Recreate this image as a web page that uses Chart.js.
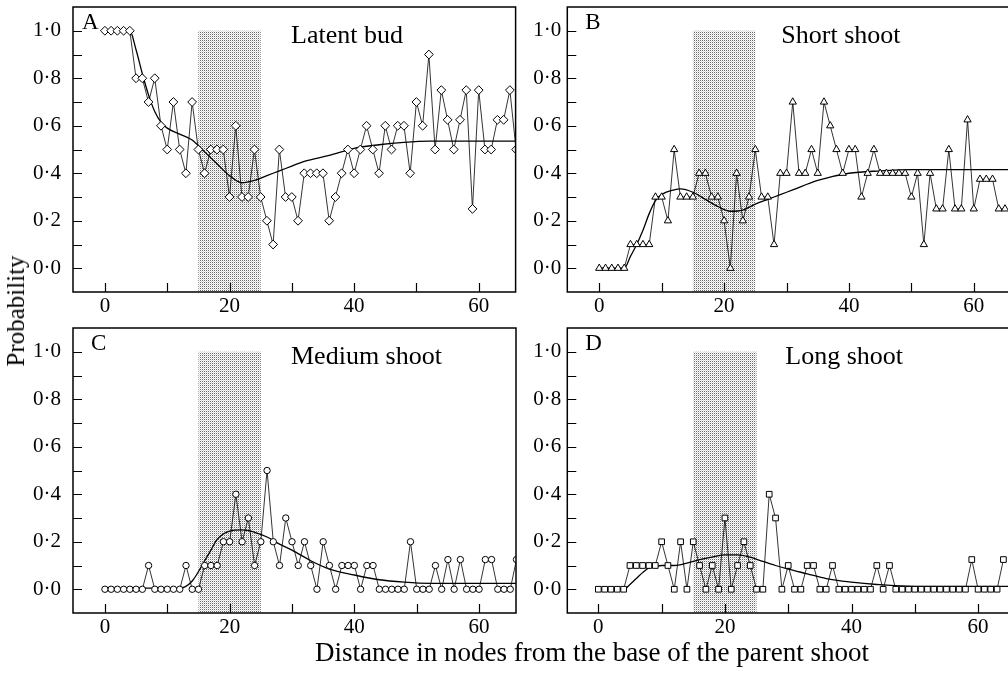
<!DOCTYPE html>
<html>
<head>
<meta charset="utf-8">
<script src="https://cdn.jsdelivr.net/npm/chart.js@4.4.1/dist/chart.umd.min.js"></script>
<style>
  html, body { margin: 0; padding: 0; background: #fff; }
  body { width: 1008px; height: 676px; overflow: hidden; position: relative; font-family: 'Liberation Serif', serif; }
  .panel { position: absolute; }
  .lab { position: absolute; font: 25px 'Liberation Serif', serif; color: #000; white-space: nowrap; }
</style>
</head>
<body>
<div class="panel" style="left:0;top:0"><canvas id="chart-a" width="521" height="320"></canvas></div>
<div class="panel" style="left:500px;top:0"><canvas id="chart-b" width="515" height="320"></canvas></div>
<div class="panel" style="left:0;top:321px"><canvas id="chart-c" width="521" height="320"></canvas></div>
<div class="panel" style="left:500px;top:321px"><canvas id="chart-d" width="520" height="320"></canvas></div>
<div class="lab" style="left:16px;top:311px;transform:translate(-50%,-50%) rotate(-90deg)">Probability</div>
<div class="lab" style="left:592px;top:652px;font-size:27px;transform:translate(-50%,-50%)">Distance in nodes from the base of the parent shoot</div>
<script>
// observed probabilities, one value per node starting at node 0
const latentBud = [1, 1, 1, 1, 1, 0.8, 0.8, 0.7, 0.8, 0.6, 0.5, 0.7, 0.5, 0.4, 0.7, 0.5, 0.4, 0.5, 0.5, 0.5,
  0.3, 0.6, 0.3, 0.3, 0.5, 0.3, 0.2, 0.1, 0.5, 0.3, 0.3, 0.2, 0.4, 0.4, 0.4, 0.4, 0.2, 0.3, 0.4, 0.5,
  0.4, 0.5, 0.6, 0.5, 0.4, 0.6, 0.5, 0.6, 0.6, 0.4, 0.7, 0.6, 0.9, 0.5, 0.75, 0.625, 0.5, 0.625, 0.75, 0.25,
  0.75, 0.5, 0.5, 0.625, 0.625, 0.75, 0.5];
const shortShoot = [0, 0, 0, 0, 0, 0.1, 0.1, 0.1, 0.1, 0.3, 0.3, 0.2, 0.5, 0.3, 0.3, 0.3, 0.4, 0.4, 0.3, 0.3,
  0.2, 0, 0.4, 0.2, 0.3, 0.5, 0.3, 0.3, 0.1, 0.4, 0.4, 0.7, 0.4, 0.4, 0.5, 0.4, 0.7, 0.6, 0.5, 0.4,
  0.5, 0.5, 0.3, 0.4, 0.5, 0.4, 0.4, 0.4, 0.4, 0.4, 0.3, 0.4, 0.1, 0.4, 0.25, 0.25, 0.5, 0.25, 0.25, 0.625,
  0.25, 0.375, 0.375, 0.375, 0.25, 0.25];
const mediumShoot = [0, 0, 0, 0, 0, 0, 0, 0.1, 0, 0, 0, 0, 0, 0.1, 0, 0, 0.1, 0.1, 0.1, 0.2,
  0.2, 0.4, 0.2, 0.3, 0.1, 0.2, 0.5, 0.2, 0.1, 0.3, 0.2, 0.1, 0.2, 0.1, 0, 0.2, 0.1, 0, 0.1, 0.1,
  0.1, 0, 0.1, 0.1, 0, 0, 0, 0, 0, 0.2, 0, 0, 0, 0.1, 0, 0.125, 0, 0.125, 0, 0,
  0, 0.125, 0.125, 0, 0, 0, 0.125];
const longShoot = [0, 0, 0, 0, 0, 0.1, 0.1, 0.1, 0.1, 0.1, 0.2, 0.1, 0, 0.2, 0, 0.2, 0.1, 0, 0.1, 0,
  0.3, 0, 0.1, 0.2, 0.1, 0, 0, 0.4, 0.3, 0, 0.1, 0, 0, 0.1, 0.1, 0, 0, 0.1, 0, 0,
  0, 0, 0, 0, 0.1, 0, 0.1, 0, 0, 0, 0, 0, 0, 0, 0, 0, 0, 0, 0, 0.125,
  0, 0, 0, 0, 0.125];

// fitted curves, read at a few nodes
const latentFitX = [0, 4, 5, 6, 7, 8, 9, 10, 12, 14, 16, 18, 20, 22, 24, 26, 28, 30, 32, 36, 40, 44, 48, 52, 58, 66];
const latentFitY = [1, 1, 0.92, 0.82, 0.73, 0.66, 0.615, 0.59, 0.565, 0.54, 0.49, 0.44, 0.39, 0.36, 0.37, 0.39, 0.41, 0.43, 0.45, 0.475, 0.505, 0.52, 0.53, 0.535, 0.535, 0.535];
const shortFitX = [0, 4, 5, 6, 7, 8, 9, 10, 12, 13, 15, 17, 19, 21, 23, 25, 27, 29, 31, 35, 40, 45, 50, 66];
const shortFitY = [0, 0, 0.05, 0.1, 0.16, 0.23, 0.285, 0.31, 0.33, 0.334, 0.32, 0.29, 0.26, 0.24, 0.245, 0.27, 0.29, 0.31, 0.33, 0.37, 0.4, 0.41, 0.415, 0.415];
const mediumFitX = [0, 12, 14, 16, 17, 18, 20, 22, 24, 26, 28, 30, 33, 36, 40, 44, 48, 52, 66];
const mediumFitY = [0.005, 0.005, 0.035, 0.12, 0.165, 0.21, 0.245, 0.25, 0.24, 0.22, 0.19, 0.165, 0.12, 0.085, 0.06, 0.04, 0.03, 0.025, 0.025];
const longFitX = [0, 4, 5, 6, 7, 8, 9, 10, 12, 14, 16, 18, 20, 22, 24, 26, 28, 30, 33, 36, 40, 44, 50, 66];
const longFitY = [0, 0, 0.02, 0.045, 0.07, 0.09, 0.095, 0.1, 0.1, 0.11, 0.125, 0.135, 0.145, 0.145, 0.135, 0.117, 0.1, 0.085, 0.065, 0.045, 0.03, 0.02, 0.012, 0.012];

const xTicks = [0, 10, 20, 30, 40, 50, 60];
const yTicks = [0, 0.1, 0.2, 0.3, 0.4, 0.5, 0.6, 0.7, 0.8, 0.9, 1.0];
const band = [15, 25]; // shaded node range

const FONT = 'Liberation Serif';

function stipple(ctx) {
  const c = document.createElement('canvas');
  c.width = 2; c.height = 2;
  const g = c.getContext('2d');
  g.fillStyle = '#fff'; g.fillRect(0, 0, 2, 2);
  g.fillStyle = '#6a6a6a'; g.fillRect(0, 0, 1, 1);
  g.fillStyle = '#d8d8d8'; g.fillRect(1, 1, 1, 1);
  return ctx.createPattern(c, 'repeat');
}

const framePlugin = {
  id: 'frame',
  beforeDatasetsDraw(chart) {
    const { ctx, chartArea: a, scales: { x, y } } = chart;
    const l = x.getPixelForValue(band[0]);
    const r = x.getPixelForValue(band[1]);
    const t = y.getPixelForValue(1);
    ctx.save();
    ctx.fillStyle = stipple(ctx);
    ctx.fillRect(l, t, r - l, a.bottom - t);
    ctx.restore();
  },
  afterDraw(chart, args, opts) {
    const { ctx, chartArea: a, scales: { x, y } } = chart;
    ctx.save();
    ctx.strokeStyle = '#000';
    ctx.lineWidth = 1.5;
    ctx.strokeRect(a.left, a.top, a.width, a.height);
    ctx.lineWidth = 1.2;
    ctx.beginPath();
    xTicks.forEach((v) => {
      const px = Math.round(x.getPixelForValue(v)) + 0.5;
      ctx.moveTo(px, a.bottom);
      ctx.lineTo(px, a.bottom - 9);
    });
    yTicks.forEach((v) => {
      const py = Math.round(y.getPixelForValue(v)) + 0.5;
      ctx.moveTo(a.left, py);
      ctx.lineTo(a.left + 9, py);
    });
    ctx.stroke();
    ctx.fillStyle = '#000';
    ctx.textBaseline = 'alphabetic';
    ctx.font = `23px "${FONT}"`;
    ctx.fillText(opts.letter, a.left + opts.letterDx, a.top + 22);
    ctx.font = `26px "${FONT}"`;
    ctx.fillText(opts.title, a.left + opts.titleDx, a.top + 36);
    ctx.restore();
  },
};

function toPoints(values) {
  return values.map((v, i) => ({ x: i, y: v }));
}

function toCurve(xs, ys) {
  return xs.map((v, i) => ({ x: v, y: ys[i] }));
}

function createPanel(id, cfg) {
  new Chart(document.getElementById(id), {
    type: 'scatter',
    data: {
      datasets: [
        {
          data: toPoints(cfg.values),
          showLine: true,
          borderColor: '#000',
          borderWidth: 0.8,
          pointStyle: cfg.marker,
          pointRadius: cfg.radius,
          pointBackgroundColor: '#fff',
          pointBorderColor: '#000',
          pointBorderWidth: 1,
        },
        {
          data: toCurve(cfg.fitX, cfg.fitY),
          showLine: true,
          borderColor: '#000',
          borderWidth: 1.3,
          pointRadius: 0,
          cubicInterpolationMode: 'monotone',
        },
      ],
    },
    options: {
      animation: false,
      responsive: false,
      events: [],
      layout: { padding: { top: 7, right: cfg.padRight, left: 0, bottom: 0 } },
      plugins: {
        legend: { display: false },
        tooltip: { enabled: false },
        frame: { letter: cfg.letter, letterDx: cfg.letterDx, title: cfg.title, titleDx: cfg.titleDx },
      },
      scales: {
        x: {
          type: 'linear',
          min: cfg.xMin,
          max: cfg.xMax,
          grid: { display: false, drawTicks: false },
          border: { display: false },
          afterBuildTicks: (s) => { s.ticks = xTicks.map((v) => ({ value: v })); },
          afterFit: (s) => { s.height = 28; s.paddingLeft = 0; s.paddingRight = 0; },
          ticks: {
            autoSkip: false,
            maxRotation: 0,
            padding: 2,
            color: '#000',
            font: { family: FONT, size: 21 },
            callback: (v) => (v % 20 === 0 ? String(v) : ''),
          },
        },
        y: {
          min: -0.1,
          max: 1.1,
          grid: { display: false, drawTicks: false },
          border: { display: false },
          afterBuildTicks: (s) => { s.ticks = yTicks.map((v) => ({ value: v })); },
          afterFit: (s) => { s.width = cfg.yWidth; s.paddingTop = 0; s.paddingBottom = 0; },
          ticks: {
            autoSkip: false,
            padding: cfg.yPad,
            color: '#000',
            font: { family: FONT, size: 21 },
            callback: (v) => (Math.round(v * 10) % 2 === 0 ? v.toFixed(1).replace('.', '·') : ''),
          },
        },
      },
    },
    plugins: [framePlugin],
  });
}

createPanel('chart-a', {
  values: latentBud, fitX: latentFitX, fitY: latentFitY, marker: 'rectRot', radius: 4.4,
  letter: 'A', letterDx: 9, title: 'Latent bud', titleDx: 218,
  xMin: -5.12, xMax: 65.92, yWidth: 73, yPad: 12, padRight: 4,
});
createPanel('chart-b', {
  values: shortShoot, fitX: shortFitX, fitY: shortFitY, marker: 'triangle', radius: 4.2,
  letter: 'B', letterDx: 18, title: 'Short shoot', titleDx: 214,
  xMin: -5.12, xMax: 65.77, yWidth: 67.3, yPad: 6, padRight: 5,
});
createPanel('chart-c', {
  values: mediumShoot, fitX: mediumFitX, fitY: mediumFitY, marker: 'circle', radius: 3.2,
  letter: 'C', letterDx: 18, title: 'Medium shoot', titleDx: 218,
  xMin: -5.12, xMax: 65.92, yWidth: 73, yPad: 12, padRight: 4,
});
createPanel('chart-d', {
  values: longShoot, fitX: longFitX, fitY: longFitY, marker: 'rect', radius: 4,
  letter: 'D', letterDx: 18, title: 'Long shoot', titleDx: 218,
  xMin: -4.9, xMax: 65.83, yWidth: 67.3, yPad: 6, padRight: 5,
});
</script>
</body>
</html>
